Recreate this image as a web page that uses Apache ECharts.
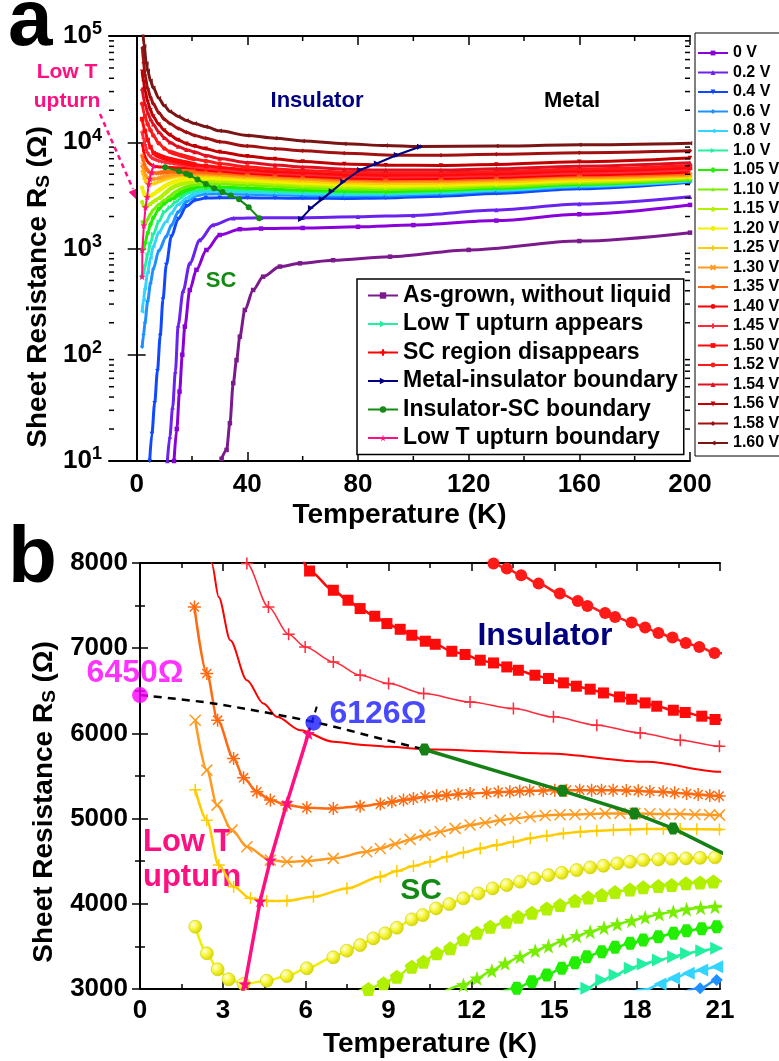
<!DOCTYPE html>
<html>
<head>
<meta charset="utf-8">
<script src="https://cdn.jsdelivr.net/npm/echarts@6.0.0/dist/echarts.min.js"></script>
<style>
html,body{margin:0;padding:0;background:#fff;}
#chart{width:779px;height:1061px;}
</style>
</head>
<body>
<div id="chart"></div>
<script>
// ================= DATA =================
const topXLabels = [0, 40, 80, 120, 160, 200];
const topXMinor = [20, 60, 100, 140, 180];
const logMinor = [20,30,40,50,60,70,80,90,200,300,400,500,600,700,800,900,
  2000,3000,4000,5000,6000,7000,8000,9000,20000,30000,40000,50000,60000,70000,80000,90000];

const voltageNames = ['0 V','0.2 V','0.4 V','0.6 V','0.8 V','1.0 V','1.05 V','1.10 V','1.15 V','1.20 V',
  '1.25 V','1.30 V','1.35 V','1.40 V','1.45 V','1.50 V','1.52 V','1.54 V','1.56 V','1.58 V','1.60 V'];

const asGrown = [[30.7,10.5],[32.5,12.7],[33.7,22.7],[34.9,54],[36.1,89],[37.3,148],[39.1,264],[42.1,407],
  [45.7,543],[51.8,676],[59,725],[71,776],[91.6,838],[120,970],[160,1175],[200,1410]];
const v0_00 = [[13.5,10],[14.5,20],[15.5,45],[16.5,100],[17.4,184],[19.2,407],[21.6,630],[25.2,968],[30,1340],
  [37.3,1520],[45,1540],[60,1560],[80,1600],[100,1660],[130,1830],[160,2100],[200,2570]];
const v0_20 = [[11.1,10],[12,17],[13,32],[14,70],[15,190],[16.8,400],[19.2,725],[22.8,1200],[27.6,1660],
  [35,1925],[45,1950],[60,1950],[80,1990],[100,2050],[130,2300],[160,2620],[200,3070]];
const v0_40 = [[4.7,10],[5.5,18],[6.5,35],[7.5,70],[8.5,150],[9.5,330],[10.7,700],[12.5,1290],[15,1900],
  [18,2500],[21,2850],[25,2980],[30,3000],[40,3000],[50,2985],[60,2970],[75,2960],[90,2990],[110,3100],
  [130,3300],[160,3650],[200,4200]];
const v0_60 = [[2,119],[2.5,155],[3,200],[4,320],[5,470],[6,640],[8,950],[10.7,1300],[12.5,1650],[15,2200],
  [18,2750],[20.28,3008],[20.88,3106],[25,3250],[30,3270],[40,3240],[50,3200],[60,3160],[75,3120],[90,3140],
  [110,3250],[130,3450],[160,3800],[200,4260]];
const v0_80 = [[2,254],[2.5,330],[3,420],[4,600],[5,820],[6,1050],[8,1420],[10.7,1800],[12.5,2150],[15,2600],
  [18.35,2996],[18.83,3059],[19.32,3125],[19.85,3184],[20.34,3223],[20.88,3262],[25,3420],[30,3440],
  [40,3390],[50,3330],[60,3280],[75,3230],[90,3240],[110,3350],[130,3530],[160,3870],[200,4320]];
const v1_00 = [[2,543],[2.5,580],[3,680],[4,880],[5,1120],[6,1360],[8,1800],[10,2200],[12,2450],[14,2720],
  [16.18,3008],[16.72,3106],[17.2,3164],[17.75,3243],[18.22,3293],[18.77,3340],[19.32,3379],[19.79,3418],
  [20.34,3450],[20.88,3477],[25,3580],[30,3590],[40,3530],[50,3460],[60,3390],
  [75,3330],[90,3330],[110,3430],[130,3610],[160,3940],[200,4380]];
const v1_05 = [[2,968],[2.5,1000],[3,1120],[4,1400],[5,1680],[6,1950],[8,2350],[10,2650],[12,2870],
  [13.64,3008],[14.19,3086],[14.73,3164],[15.27,3243],[15.75,3309],[16.18,3379],[16.72,3438],[17.2,3489],
  [17.75,3536],[18.22,3575],[18.77,3614],[19.32,3653],[19.79,3684],[20.34,3707],[20.88,3731],[25,3800],
  [30,3790],[40,3710],[50,3620],[60,3530],[75,3450],[90,3430],[110,3520],[130,3690],[160,4010],[200,4450]];
const v1_10 = [[2,1800],[2.6,1650],[3,1690],[4,1900],[5,2120],[6,2320],[8,2600],[10,2840],[11.71,3047],
  [12.2,3125],[12.74,3215],[13.22,3301],[13.76,3379],[14.31,3450],[14.79,3504],[15.31,3567],[15.81,3622],
  [16.3,3672],[16.8,3719],[17.28,3762],[17.8,3801],[18.29,3841],[18.8,3880],[19.31,3907],[19.79,3935],
  [20.3,3954],[20.82,3966],[25,4080],[30,4060],[40,3960],[50,3850],[60,3740],[75,3630],[90,3590],
  [110,3660],[130,3810],[160,4110],[200,4520]];
const v1_15 = [[2,2750],[2.5,2540],[3.2,2450],[4,2520],[5,2640],[6,2770],[7,2880],[8.27,3000],[8.82,3067],
  [9.3,3144],[9.84,3262],[10.26,3320],[10.75,3419],[11.23,3477],[11.71,3583],[12.2,3661],[12.68,3731],
  [13.26,3789],[13.7,3848],[14.19,3895],[14.73,3946],[15.21,3985],[15.75,4036],[16.23,4075],[16.72,4103],
  [17.2,4138],[17.74,4169],[18.22,4193],[18.77,4208],[19.25,4220],[19.77,4240],[20.28,4251],[20.76,4263],
  [25,4330],[30,4300],[40,4170],[50,4040],[60,3920],[75,3790],[90,3740],[110,3800],[130,3950],[160,4230],[200,4600]];
const v1_20 = [[2,3731],[2.42,3419],[2.81,3231],[3.21,3114],[3.75,3059],[4.59,3097],[5.32,3152],[6.04,3243],
  [7.0,3372],[7.49,3450],[7.97,3516],[8.45,3594],[8.88,3653],[9.3,3719],[9.84,3817],[10.24,3868],
  [10.72,3946],[11.2,3997],[11.71,4064],[12.25,4122],[12.77,4181],[13.28,4220],[13.76,4259],[14.27,4298],
  [14.79,4337],[15.27,4364],[15.81,4396],[16.3,4427],[16.78,4446],[17.28,4474],[17.74,4493],[18.22,4513],
  [18.77,4521],[19.25,4528],[19.77,4533],[20.28,4540],[20.82,4545],[25,4560],[30,4500],[40,4370],
  [50,4230],[60,4100],[75,3950],[90,3880],[110,3930],[130,4070],[160,4350],[200,4700]];
const v1_25 = [[2,5340],[2.42,4982],[2.85,4454],[3.39,4200],[4.0,4064],[4.59,4032],[5.32,4036],[6.28,4083],
  [7.49,4181],[8.7,4317],[9.3,4384],[9.9,4443],[10.5,4493],[11.11,4552],[11.71,4603],[12.32,4650],
  [12.92,4689],[13.52,4728],[14.13,4768],[14.73,4798],[15.33,4826],[15.94,4845],[16.54,4857],[17.14,4865],
  [17.75,4873],[18.35,4877],[18.95,4877],[19.56,4877],[20.16,4875],[20.98,4873],[25,4840],[30,4760],
  [40,4600],[50,4450],[60,4300],[75,4150],[90,4080],[110,4120],[130,4250],[160,4500],[200,4800]];
const v1_30 = [[2,6155],[2.42,5569],[2.79,5158],[3.33,4865],[3.87,4669],[4.72,4513],[5.32,4493],[6.04,4501],
  [7.0,4533],[8.21,4610],[8.7,4650],[9.24,4701],[9.78,4756],[10.32,4806],[10.87,4845],[11.41,4885],
  [11.95,4924],[12.5,4951],[13.04,4982],[13.58,5002],[14.12,5021],[14.67,5037],[15.21,5045],[15.75,5049],
  [16.3,5053],[16.84,5061],[17.38,5061],[17.92,5061],[18.46,5057],[19.0,5053],[19.55,5053],[20.09,5049],
  [20.63,5045],[20.98,5041],[25,5000],[30,4930],[40,4770],[50,4620],[60,4480],[75,4320],[90,4250],
  [110,4280],[130,4400],[160,4650],[200,4900]];
const v1_35 = [[1.97,7484],[2.42,6703],[2.81,6155],[3.39,5706],[3.75,5480],[4.23,5314],[4.72,5217],
  [5.32,5158],[6.04,5126],[7.0,5119],[7.97,5146],[8.7,5170],[9.12,5197],[9.54,5217],[9.9,5237],
  [10.32,5256],[10.74,5268],[11.1,5275],[11.52,5287],[11.95,5295],[12.55,5303],[12.97,5311],[13.39,5314],
  [13.75,5322],[14.11,5326],[14.6,5330],[15.02,5334],[15.44,5334],[15.92,5334],[16.35,5334],[16.71,5334],
  [17.13,5334],[17.61,5330],[18.04,5326],[18.46,5318],[18.94,5314],[19.36,5303],[19.79,5295],[20.21,5283],
  [20.63,5272],[20.97,5264],[25,5190],[30,5100],[40,4940],[50,4790],[60,4650],[75,4480],[90,4400],
  [110,4430],[130,4550],[160,4800],[200,5050]];
const v1_40 = [[2,9800],[2.3,8900],[2.6,7993],[2.85,7601],[3.27,7093],[3.87,6624],[4.47,6351],[4.96,6194],
  [5.8,6038],[7.0,5901],[8.21,5862],[9.06,5842],[10.27,5815],[14.73,5764],[18.35,5666],[20.98,5549],
  [25,5450],[30,5320],[40,5100],[50,4930],[60,4790],[75,4620],[90,4540],[110,4570],[130,4690],
  [160,4940],[200,5250]];
const v1_45 = [[2,12500],[2.5,10800],[3,9500],[3.87,7993],[4.65,7484],[5.38,7164],[5.98,7015],[7.0,6839],
  [7.97,6683],[9.0,6586],[10.27,6468],[11.95,6370],[13.52,6292],[14.97,6194],[16.54,6096],[18.11,6006],
  [19.56,5920],[20.98,5850],[25,5700],[30,5550],[40,5300],[50,5120],[60,4970],[75,4800],[90,4720],
  [110,4750],[130,4870],[160,5130],[200,5500]];
const v1_50 = [[2,16500],[3,12800],[4,10500],[5,9000],[6.14,7906],[7.0,7680],[7.53,7563],[7.97,7465],
  [8.5,7375],[8.94,7289],[9.42,7222],[9.84,7152],[10.33,7082],[10.69,7046],[11.29,6964],[11.77,6926],
  [12.32,6859],[12.8,6827],[13.28,6780],[13.7,6741],[14.3,6683],[14.79,6644],[15.33,6593],[15.8,6554],
  [16.3,6519],[16.78,6475],[17.36,6428],[17.8,6401],[18.29,6358],[18.71,6319],[19.31,6272],[19.74,6245],
  [20.34,6202],[20.82,6163],[25,6000],[30,5800],[40,5500],[50,5300],[60,5150],[75,4980],[90,4900],
  [110,4930],[130,5050],[160,5350],[200,5750]];
const v1_52 = [[2,23000],[3,17500],[4,14800],[5,13000],[6,11600],[8,9800],[10,8750],[12,8150],[12.8,7993],
  [13.28,7934],[13.8,7856],[14.43,7758],[15.2,7641],[15.85,7554],[16.2,7496],[16.84,7414],[17.2,7367],
  [17.8,7301],[18.29,7242],[18.77,7179],[19.28,7125],[19.76,7062],[20.25,7015],[20.8,6945],[25,6650],
  [30,6300],[40,5850],[50,5600],[60,5420],[75,5230],[90,5150],[110,5170],[130,5300],[160,5600],[200,6050]];
const v1_54 = [[2,32000],[3,23000],[4,19000],[5,16500],[6,14800],[8,12500],[10,11000],[12,10000],[15,9100],
  [18,8500],[21,8100],[25,7500],[30,7050],[40,6450],[50,6100],[60,5850],[75,5580],[90,5470],[110,5480],
  [130,5620],[160,5950],[200,6400]];
const v1_56 = [[2,46000],[2.5,37000],[3,31000],[4,24000],[5,20000],[6,17500],[8,14700],[10,12900],[12,11700],
  [15,10500],[18,9700],[21,9150],[25,8700],[30,8100],[40,7400],[50,6950],[60,6600],[75,6250],[90,6080],
  [110,6050],[130,6180],[160,6550],[200,7100]];
const v1_58 = [[2.1,77000],[2.5,56000],[3,43000],[4,32000],[5,26500],[6,23000],[8,19000],[10,16500],
  [12,15000],[15,13500],[18,12400],[21,11600],[25,10900],[30,10100],[40,9200],[50,8700],[60,8300],
  [75,7900],[94,7550],[110,7560],[130,7700],[160,7950],[200,8300]];
const v1_60 = [[2.2,115000],[2.7,80000],[3.5,55000],[4,47000],[5,38000],[6,32500],[8,26000],[10,22000],
  [12,19500],[15,17500],[18,16000],[21,15000],[25,14000],[30,12800],[40,11600],[50,10900],[60,10300],
  [75,9700],[90,9300],[102,9100],[130,9200],[160,9450],[200,9800]];

const voltageData = [v0_00,v0_20,v0_40,v0_60,v0_80,v1_00,v1_05,v1_10,v1_15,v1_20,
  v1_25,v1_30,v1_35,v1_40,v1_45,v1_50,v1_52,v1_54,v1_56,v1_58,v1_60];

const miBoundary = [[59.4,1900],[63,2400],[66.9,2900],[70.5,3450],[74.7,4250],[80.7,5480],[86.8,6310],[94,7590],[102.4,9080]];
const scBoundary = [[10.3,5811],[15.3,5326],[17.9,5060],[19.3,4885],[22,4450],[25,4050],[28,3700],[31,3400],
  [34,3150],[37,2900],[40.5,2450],[44.3,1925]];
const upturnBoundary = [[2.0,543],[2.05,968],[2.6,1650],[3.2,2450],[3.8,3059],[4.35,4032],[4.72,4513],[5.32,5185],[6.1,5999]];
const dashedGuide = [[0,6450],[2.66,6351],[6.28,6135],[8.94,5920],[10.3,5811]];
const dashedStub = [[6.1,6000],[6.45,6365]];
const point6450 = [[0,6450]];
const point6126 = [[6.28,6126]];

const innerLegendNames = ['As-grown, without liquid','Low T upturn appears','SC region disappears',
  'Metal-insulator boundary','Insulator-SC boundary','Low T upturn boundary'];

// ================= STYLES =================
const FONT = "'Liberation Sans', Arial, Helvetica, sans-serif";
const SYM = {
  plus: 'path://M5,0L5,10M0,5L10,5',
  cross: 'path://M0,0L10,10M0,10L10,0',
  aster: 'path://M5,0L5,10M0,5L10,5M1.5,1.5L8.5,8.5M1.5,8.5L8.5,1.5',
  penta: 'path://M5,0L9.76,3.45L7.94,9.05L2.06,9.05L0.24,3.45Z',
  hexa: 'path://M2.5,0.67L7.5,0.67L10,5L7.5,9.33L2.5,9.33L0,5Z',
  star: 'path://M5,0L6.18,3.38L9.76,3.45L6.9,5.62L7.94,9.05L5,7L2.06,9.05L3.1,5.62L0.24,3.45L3.82,3.38Z'
};
const STY = {
  '0 V':   {c:'#8a00d8', s:'rect'},
  '0.2 V': {c:'#6a22ee', s:'triangle'},
  '0.4 V': {c:'#1048ff', s:'triangle', r:180},
  '0.6 V': {c:'#1e90ff', s:'diamond', bs:12},
  '0.8 V': {c:'#33d4ff', s:'triangle', r:90, bs:13},
  '1.0 V': {c:'#22f0a0', s:'triangle', r:-90, bs:13},
  '1.05 V':{c:'#22ee00', s:SYM.hexa, bs:13},
  '1.10 V':{c:'#77ee00', s:SYM.star, bs:15},
  '1.15 V':{c:'#b0f000', s:SYM.penta, bs:14},
  '1.20 V':{c:'#f0f000', s:'circle', bs:13, ball:true},
  '1.25 V':{c:'#ffcc00', s:SYM.plus, st:true, bs:12},
  '1.30 V':{c:'#ff9a20', s:SYM.cross, st:true, bs:11},
  '1.35 V':{c:'#ff6a10', s:SYM.aster, st:true, bs:13},
  '1.40 V':{c:'#ff0000', s:'none', lw:2},
  '1.45 V':{c:'#ff2a3a', s:SYM.plus, st:true, bs:12, lw:1.5},
  '1.50 V':{c:'#ff0a0a', s:'rect', bs:11},
  '1.52 V':{c:'#ff1a1a', s:'circle', bs:12},
  '1.54 V':{c:'#e01020', s:'triangle'},
  '1.56 V':{c:'#c00000', s:'triangle', r:180},
  '1.58 V':{c:'#a01010', s:'diamond'},
  '1.60 V':{c:'#7a1515', s:'triangle', r:90}
};
const PINK = '#ff1080', GREEN = '#138a13', NAVY = '#000080';

function lineSeries(name, data, s, axis, size, width, strokeW) {
  const hasSym = s.s !== 'none';
  let itemStyle;
  if (s.st) itemStyle = {color:'rgba(255,255,255,0)', borderColor:s.c, borderWidth:strokeW};
  else if (s.ball && axis === 2) itemStyle = {color:{type:'radial', x:0.35, y:0.35, r:0.7,
      colorStops:[{offset:0,color:'#ffffe0'},{offset:0.45,color:'#f6f640'},{offset:1,color:'#d4d400'}]},
      borderColor:'#cccc00', borderWidth:0.6};
  else itemStyle = {color:s.c, borderWidth:0};
  return {
    type:'line', name, data, xAxisIndex:axis, yAxisIndex:axis,
    smooth:0.3, smoothMonotone:'x', clip:true,
    symbol: hasSym ? s.s : 'none', showSymbol: hasSym, symbolSize:size, symbolRotate:s.r || 0,
    lineStyle:{color:s.c, width:width}, itemStyle,
    emphasis:{disabled:true}, z: axis === 2 ? 4 : 3
  };
}

const series = [];
voltageNames.forEach((n, i) => series.push(lineSeries(n, voltageData[i], STY[n], 0, 4.5, 3, 1)));
series.push(lineSeries('As-grown, without liquid', asGrown, {c:'#7b1a8c', s:'rect'}, 0, 4.5, 3, 1));
series.push(lineSeries('Low T upturn appears', [], {c:'#22f0a0', s:'triangle', r:-90}, 0, 5, 3, 1));
series.push(lineSeries('SC region disappears', [], {c:'#ff0000', s:SYM.plus, st:true}, 0, 5, 3, 1.2));
series.push(Object.assign(lineSeries('Metal-insulator boundary', miBoundary, {c:NAVY, s:'triangle', r:-90}, 0, 6, 2, 1), {smooth:false, z:6}));
series.push(Object.assign(lineSeries('Insulator-SC boundary', scBoundary, {c:GREEN, s:'circle'}, 0, 6, 2, 1), {smooth:false, z:6}));
series.push(Object.assign(lineSeries('Low T upturn boundary', upturnBoundary, {c:PINK, s:SYM.star}, 0, 7, 2, 1), {smooth:false, z:6}));

// minor ticks (top panel)
series.push({
  type:'custom', name:'yminor', xAxisIndex:0, yAxisIndex:0, silent:true, z:10,
  data: logMinor.map(v => [100, v]),
  renderItem: (params, api) => {
    const cs = params.coordSys;
    const y = api.coord([100, api.value(1)])[1];
    return {type:'group', children:[
      {type:'line', shape:{x1:cs.x, y1:y, x2:cs.x+5, y2:y}, style:{stroke:'#000', lineWidth:1.5}},
      {type:'line', shape:{x1:cs.x+cs.width-5, y1:y, x2:cs.x+cs.width, y2:y}, style:{stroke:'#000', lineWidth:1.5}}
    ]};
  }
});
series.push({
  type:'custom', name:'xminor', xAxisIndex:0, yAxisIndex:0, silent:true, z:10,
  data: topXMinor.map(v => [v, 1000]),
  renderItem: (params, api) => {
    const cs = params.coordSys;
    const x = api.coord([api.value(0), 1000])[0];
    return {type:'group', children:[
      {type:'line', shape:{x1:x, y1:cs.y, x2:x, y2:cs.y+5}, style:{stroke:'#000', lineWidth:1.5}},
      {type:'line', shape:{x1:x, y1:cs.y+cs.height-5, x2:x, y2:cs.y+cs.height}, style:{stroke:'#000', lineWidth:1.5}}
    ]};
  }
});

// bottom panel
voltageNames.forEach((n, i) => {
  const s = STY[n];
  series.push(lineSeries('b ' + n, voltageData[i], s, 2, s.bs || 10, s.lw || 2.5, 1.5));
});
series.push(Object.assign(lineSeries('b sc', scBoundary, {c:'#158015', s:SYM.hexa}, 2, 12, 3.5, 1), {smooth:false, z:7}));
series.push(Object.assign(lineSeries('b up', upturnBoundary, {c:PINK, s:SYM.star}, 2, 13, 3.5, 1), {smooth:false, z:7}));
series.push({type:'line', name:'b dash', data:dashedGuide, xAxisIndex:2, yAxisIndex:2, smooth:0.3,
  showSymbol:false, symbol:'none', lineStyle:{color:'#000', width:2.5, type:[8,6]}, z:7, emphasis:{disabled:true}});
series.push({type:'line', name:'b stub', data:dashedStub, xAxisIndex:2, yAxisIndex:2,
  showSymbol:false, symbol:'none', lineStyle:{color:'#000', width:2, type:[6,5]}, z:7, emphasis:{disabled:true}});
series.push({type:'scatter', name:'b p1', data:point6450, xAxisIndex:2, yAxisIndex:2, clip:false, z:9,
  symbolSize:16, itemStyle:{color:'#ff00ff'},
  label:{show:true, position:'top', distance:0, offset:[-5,2], formatter:p => p.value[1] + 'Ω',
    color:'#ff00ff', fontSize:32, fontWeight:'bold', fontFamily:FONT}});
series.push({type:'scatter', name:'b p2', data:point6126, xAxisIndex:2, yAxisIndex:2, clip:false, z:9,
  symbolSize:16, itemStyle:{color:'#1a1aff'},
  label:{show:true, position:'right', distance:8, offset:[0,-8], formatter:p => p.value[1] + 'Ω',
    color:'#1a1aff', fontSize:32, fontWeight:'bold', fontFamily:FONT}});

// ================= AXES =================
const axLine = {show:true, lineStyle:{color:'#000', width:2}};
const tickFont = {fontSize:26, fontWeight:'bold', color:'#000', fontFamily:FONT};
const plain = v => String(v);

const option = {
  animation:false,
  backgroundColor:'#fff',
  textStyle:{fontFamily:FONT},
  grid:[
    {left:109, top:36, width:581, height:425},
    {left:140, top:563, width:580, height:426}
  ],
  xAxis:[
    {gridIndex:0, type:'value', min:-10, max:200, position:'bottom', axisLine:axLine, splitLine:{show:false},
     axisTick:{inside:true, length:9, lineStyle:{width:1.5}, customValues:topXLabels},
     axisLabel:Object.assign({margin:11, customValues:topXLabels, formatter:plain}, tickFont),
     name:'Temperature (K)', nameLocation:'middle', nameGap:40,
     nameTextStyle:{fontSize:28, fontWeight:'bold', color:'#000', fontFamily:FONT}},
    {gridIndex:0, type:'value', min:-10, max:200, position:'top', axisLine:axLine, splitLine:{show:false},
     axisTick:{inside:true, length:9, lineStyle:{width:1.5}, customValues:topXLabels}, axisLabel:{show:false}},
    {gridIndex:1, type:'value', min:0, max:21, interval:3, position:'bottom', axisLine:axLine, splitLine:{show:false},
     axisTick:{inside:true, length:8, lineStyle:{width:1.5}},
     minorTick:{show:true, splitNumber:2, length:5, lineStyle:{width:1.5, color:'#000'}},
     axisLabel:Object.assign({margin:9, formatter:plain}, tickFont),
     name:'Temperature (K)', nameLocation:'middle', nameGap:41,
     nameTextStyle:{fontSize:28, fontWeight:'bold', color:'#000', fontFamily:FONT}},
    {gridIndex:1, type:'value', min:0, max:21, interval:3, position:'top', axisLine:axLine, splitLine:{show:false},
     axisTick:{inside:true, length:8, lineStyle:{width:1.5}},
     minorTick:{show:true, splitNumber:2, length:5, lineStyle:{width:1.5, color:'#000'}}, axisLabel:{show:false}}
  ],
  yAxis:[
    {gridIndex:0, type:'log', logBase:10, min:10, max:100000, position:'left', axisLine:axLine, splitLine:{show:false},
     axisTick:{inside:true, length:9, lineStyle:{width:1.5}},
     axisLabel:{margin:7, formatter:v => '{b|10}{s|' + Math.round(Math.log10(v)) + '}',
       rich:{b:{fontSize:26, fontWeight:'bold', color:'#000', fontFamily:FONT},
             s:{fontSize:18, fontWeight:'bold', color:'#000', fontFamily:FONT, padding:[0,0,13,0]}}}},
    {gridIndex:0, type:'log', logBase:10, min:10, max:100000, position:'right', axisLine:axLine, splitLine:{show:false},
     axisTick:{inside:true, length:9, lineStyle:{width:1.5}}, axisLabel:{show:false}},
    {gridIndex:1, type:'value', min:3000, max:8000, interval:1000, position:'left', axisLine:axLine, splitLine:{show:false},
     axisTick:{inside:true, length:8, lineStyle:{width:1.5}},
     minorTick:{show:true, splitNumber:2, length:5, lineStyle:{width:1.5, color:'#000'}},
     axisLabel:Object.assign({margin:12, formatter:plain}, tickFont)},
    {gridIndex:1, type:'value', min:3000, max:8000, interval:1000, position:'right', axisLine:axLine, splitLine:{show:false},
     axisTick:{inside:true, length:8, lineStyle:{width:1.5}},
     minorTick:{show:true, splitNumber:2, length:5, lineStyle:{width:1.5, color:'#000'}}, axisLabel:{show:false}}
  ],
  legend:[
    {data:voltageNames, orient:'vertical', left:695, top:33, itemWidth:30, itemHeight:6, itemGap:3.5,
     selectedMode:false, backgroundColor:'#fff', borderColor:'#000', borderWidth:1, padding:[12,12,5,2],
     textStyle:{fontSize:16, fontWeight:'bold', color:'#000', lineHeight:16, fontFamily:FONT}},
    {data:innerLegendNames, orient:'vertical', left:357, top:279, itemWidth:30, itemHeight:8, itemGap:5.5,
     selectedMode:false, backgroundColor:'#fff', borderColor:'#000', borderWidth:1.5, padding:[5,6,5,10],
     textStyle:{fontSize:23, fontWeight:'bold', color:'#000', lineHeight:23, fontFamily:FONT}}
  ],
  graphic:[
    {type:'text', x:8, y:23, style:{text:'a', font:'bold 80px ' + FONT, fill:'#000', align:'left', verticalAlign:'middle'}},
    {type:'text', x:8, y:560, style:{text:'b', font:'bold 80px ' + FONT, fill:'#000', align:'left', verticalAlign:'middle'}},
    {type:'text', x:38, y:287, rotation:Math.PI/2, style:{text:'Sheet Resistance R{s|S} (Ω)', font:'bold 28px ' + FONT,
      fill:'#000', align:'center', verticalAlign:'middle',
      rich:{s:{fontSize:19, fontWeight:'bold', fontFamily:FONT, fill:'#000', padding:[11,0,0,0]}}}},
    {type:'text', x:44, y:802, rotation:Math.PI/2, style:{text:'Sheet Resistance R{s|S} (Ω)', font:'bold 28px ' + FONT,
      fill:'#000', align:'center', verticalAlign:'middle',
      rich:{s:{fontSize:19, fontWeight:'bold', fontFamily:FONT, fill:'#000', padding:[11,0,0,0]}}}},
    {type:'text', x:67, y:87, style:{text:'Low T\nupturn', font:'bold 21px ' + FONT, fill:PINK, align:'center', verticalAlign:'middle', lineHeight:29}},
    {type:'line', shape:{x1:100, y1:114, x2:133, y2:189}, style:{stroke:PINK, lineWidth:2.5, lineDash:[5,4]}},
    {type:'polygon', shape:{points:[[138,201],[128.6,192],[137.8,188]]}, style:{fill:PINK}},
    {type:'text', x:317, y:101, style:{text:'Insulator', font:'bold 22px ' + FONT, fill:NAVY, align:'center', verticalAlign:'middle'}},
    {type:'text', x:572, y:101, style:{text:'Metal', font:'bold 22px ' + FONT, fill:'#000', align:'center', verticalAlign:'middle'}},
    {type:'text', x:221, y:281, style:{text:'SC', font:'bold 22px ' + FONT, fill:GREEN, align:'center', verticalAlign:'middle'}},
    {type:'text', x:545, y:636, style:{text:'Insulator', font:'bold 32px ' + FONT, fill:NAVY, align:'center', verticalAlign:'middle'}},
    {type:'text', x:143, y:860, style:{text:'Low T\nupturn', font:'bold 31px ' + FONT, fill:PINK, align:'left', verticalAlign:'middle', lineHeight:35}},
    {type:'text', x:421, y:891, style:{text:'SC', font:'bold 30px ' + FONT, fill:GREEN, align:'center', verticalAlign:'middle'}}
  ],
  series
};

const chart = echarts.init(document.getElementById('chart'), null, {renderer:'canvas'});
chart.setOption(option);
</script>
</body>
</html>
